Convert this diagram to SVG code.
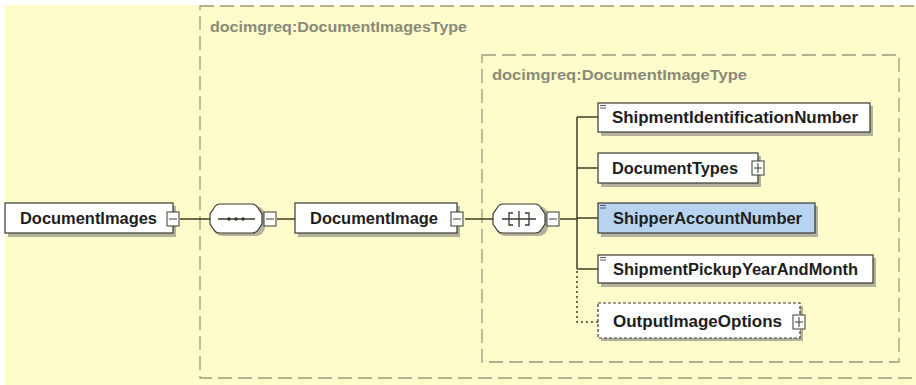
<svg xmlns="http://www.w3.org/2000/svg" width="916" height="385" viewBox="0 0 916 385">
<defs>
<style>
.bg{fill:#FFFCCB}
.dash{fill:none;stroke:#9C9A7C;stroke-width:1.3;stroke-dasharray:14,6}
.lbl{font-family:"Liberation Sans",Arial,sans-serif;font-weight:bold;font-size:14px;fill:#8A8A78}
.shadow{fill:#B4B29C}
.box{fill:#FFFFFF;stroke:#3A3A30;stroke-width:1.2}
.sel{fill:#B7D3EF;stroke:#3A3A30;stroke-width:1.2}
.opt{fill:#FFFFFF;stroke:#3A3A30;stroke-width:1.2;stroke-dasharray:3,2}
.t{font-family:"Liberation Sans",Arial,sans-serif;font-weight:bold;font-size:16px;fill:#1E1E1E}
.ico{fill:#FFFFFF;stroke:#3A3A30;stroke-width:1}
.mk{stroke:#3A3A30;stroke-width:1;fill:none}
.comp{fill:#FFFFFF;stroke:#3A3A30;stroke-width:1.2}
.ln{stroke:#3F3E22;stroke-width:1.5;fill:none}
.dot{stroke:#3F3E22;stroke-width:1.5;fill:none;stroke-dasharray:2,3}
.eq{stroke:#555577;stroke-width:1}
</style>
</defs>
<rect x="0" y="0" width="916" height="385" fill="#FFFFFF"/>
<rect class="bg" x="5" y="5" width="911" height="380"/>

<g id="type-outer">
<rect class="dash" x="200" y="6" width="730" height="372"/>
<text class="lbl" x="210" y="32" textLength="257" lengthAdjust="spacingAndGlyphs">docimgreq:DocumentImagesType</text>
</g>
<g id="type-inner">
<rect class="dash" x="482" y="55" width="417" height="307"/>
<text class="lbl" x="492" y="80" textLength="255" lengthAdjust="spacingAndGlyphs">docimgreq:DocumentImageType</text>
</g>

<g id="connectors">
<line class="ln" x1="180" y1="219" x2="210" y2="219"/>
<line class="ln" x1="277" y1="219" x2="295" y2="219"/>
<line class="ln" x1="465" y1="219" x2="493" y2="219"/>
<line class="ln" x1="560" y1="219" x2="577" y2="219"/>
<line class="ln" x1="577" y1="117" x2="577" y2="269"/>
<line class="ln" x1="577" y1="117" x2="598" y2="117"/>
<line class="ln" x1="577" y1="168" x2="598" y2="168"/>
<line class="ln" x1="577" y1="218" x2="598" y2="218"/>
<line class="ln" x1="577" y1="269" x2="598" y2="269"/>
<polyline class="dot" points="577,271 577,322 598,322"/>
</g>

<g id="n-DocumentImages">
<rect class="shadow" x="8" y="206" width="168" height="31"/>
<rect class="box" x="5" y="203" width="168" height="30"/>
<text class="t" x="20" y="224" textLength="137" lengthAdjust="spacingAndGlyphs">DocumentImages</text>
<rect class="ico" x="167" y="212" width="12" height="14"/>
<line class="mk" x1="169" y1="219" x2="177" y2="219"/>
</g>

<g id="n-sequence">
<rect class="shadow" x="213" y="206" width="52" height="30" rx="9"/>
<path class="comp" d="M220,204 H252 Q256,204 258,208 L262,214 V224 L258,230 Q256,233 252,233 H220 Q216,233 214,230 L210,224 V214 L214,208 Q216,204 220,204 Z"/>
<line class="mk" x1="218" y1="219" x2="255" y2="219" style="stroke-width:1.3"/>
<circle cx="229" cy="219" r="1.8" fill="#3A3A30"/>
<circle cx="236" cy="219" r="1.8" fill="#3A3A30"/>
<circle cx="243" cy="219" r="1.8" fill="#3A3A30"/>
<rect class="ico" x="264" y="212" width="12" height="14"/>
<line class="mk" x1="266" y1="219" x2="274" y2="219"/>
</g>

<g id="n-DocumentImage">
<rect class="shadow" x="298" y="206" width="162" height="31"/>
<rect class="box" x="295" y="203" width="162" height="30"/>
<text class="t" x="310" y="224" textLength="128" lengthAdjust="spacingAndGlyphs">DocumentImage</text>
<rect class="ico" x="451" y="212" width="12" height="14"/>
<line class="mk" x1="453" y1="219" x2="461" y2="219"/>
</g>

<g id="n-choice">
<rect class="shadow" x="496" y="206" width="52" height="30" rx="9"/>
<path class="comp" d="M503,204 H535 Q539,204 541,208 L545,214 V224 L541,230 Q539,233 535,233 H503 Q499,233 497,230 L493,224 V214 L497,208 Q499,204 503,204 Z"/>
<line class="mk" x1="502" y1="219" x2="536" y2="219" style="stroke-width:1.3"/>
<path class="mk" d="M513,213 H509 V225 H513 M525,213 H529 V225 H525 M519,211 V227" style="stroke-width:1.3"/>
<rect class="ico" x="547" y="212" width="12" height="14"/>
<line class="mk" x1="549" y1="219" x2="557" y2="219"/>
</g>

<g id="n-ShipmentIdentificationNumber">
<rect class="shadow" x="601" y="106" width="272" height="30"/>
<rect class="box" x="598" y="103" width="272" height="29"/>
<line class="eq" x1="600" y1="105.5" x2="606" y2="105.5"/>
<line class="eq" x1="600" y1="108" x2="606" y2="108"/>
<text class="t" x="612" y="123" textLength="246" lengthAdjust="spacingAndGlyphs">ShipmentIdentificationNumber</text>
</g>

<g id="n-DocumentTypes">
<rect class="shadow" x="601" y="156" width="160" height="31"/>
<rect class="box" x="598" y="153" width="160" height="30"/>
<text class="t" x="612" y="174" textLength="126" lengthAdjust="spacingAndGlyphs">DocumentTypes</text>
<rect class="ico" x="752" y="161" width="12" height="14"/>
<path class="mk" d="M754,168 H762 M758,163 V173"/>
</g>

<g id="n-ShipperAccountNumber">
<rect class="shadow" x="601" y="206" width="217" height="31"/>
<rect class="sel" x="598" y="203" width="217" height="30"/>
<line class="eq" x1="600" y1="205.5" x2="606" y2="205.5"/>
<line class="eq" x1="600" y1="208" x2="606" y2="208"/>
<text class="t" x="613" y="224" textLength="189" lengthAdjust="spacingAndGlyphs">ShipperAccountNumber</text>
</g>

<g id="n-ShipmentPickupYearAndMonth">
<rect class="shadow" x="601" y="258" width="275" height="29"/>
<rect class="box" x="598" y="255" width="275" height="28"/>
<line class="eq" x1="600" y1="257.5" x2="606" y2="257.5"/>
<line class="eq" x1="600" y1="260" x2="606" y2="260"/>
<text class="t" x="613" y="275" textLength="245" lengthAdjust="spacingAndGlyphs">ShipmentPickupYearAndMonth</text>
</g>

<g id="n-OutputImageOptions">
<rect class="shadow" x="601" y="306" width="202" height="35"/>
<rect class="opt" x="598" y="303" width="202" height="35"/>
<text class="t" x="613" y="327" textLength="169" lengthAdjust="spacingAndGlyphs">OutputImageOptions</text>
<rect class="ico" x="793" y="315" width="12" height="14"/>
<path class="mk" d="M795,322 H803 M799,317 V327"/>
</g>
</svg>
